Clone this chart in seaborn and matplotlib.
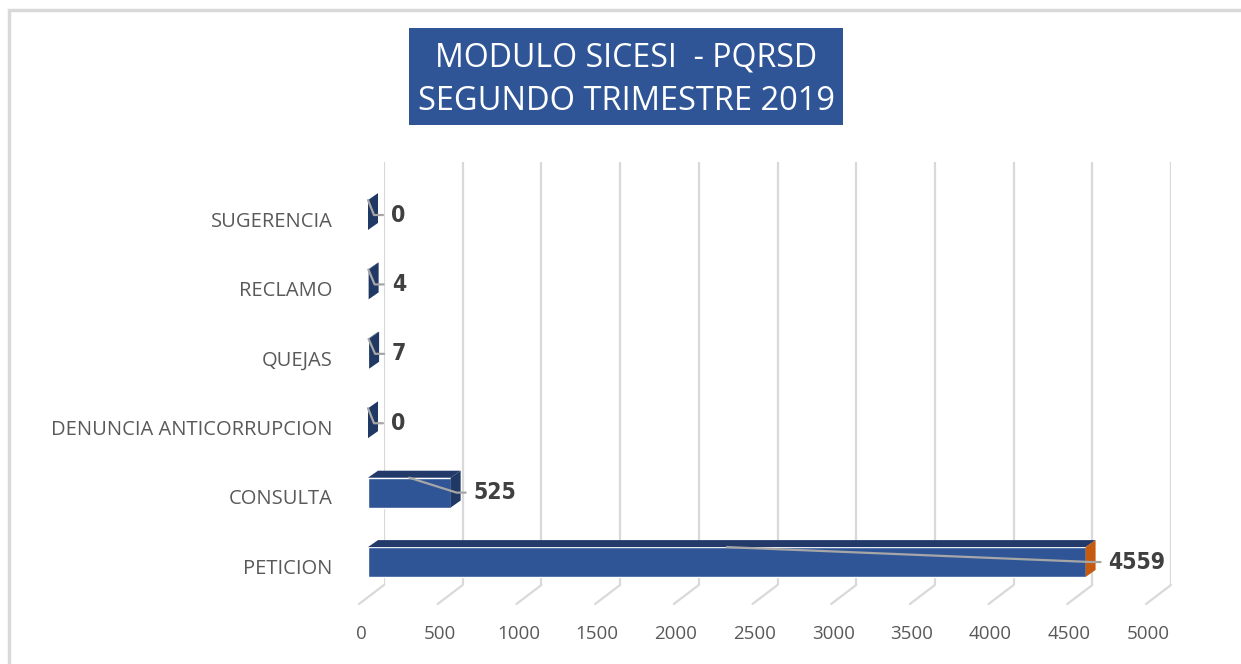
import numpy as np
import pandas as pd
import matplotlib
matplotlib.use("Agg")
import matplotlib.pyplot as plt
import matplotlib.transforms as mtransforms
from matplotlib.patches import Polygon, Rectangle
from matplotlib.lines import Line2D
import seaborn as sns

categories = ["SUGERENCIA", "RECLAMO", "QUEJAS", "DENUNCIA ANTICORRUPCION", "CONSULTA", "PETICION"]
values = [0, 4, 7, 0, 525, 4559]
x_ticks = [0, 500, 1000, 1500, 2000, 2500, 3000, 3500, 4000, 4500, 5000]
title_lines = ["MODULO SICESI  - PQRSD", "SEGUNDO TRIMESTRE 2019"]

sns.set_theme(style="white")
plt.rcParams["font.family"] = ["Open Sans", "DejaVu Sans"]

W, H = 1241, 664
fig = plt.figure(figsize=(W / 100, H / 100), dpi=100)
fig.patch.set_facecolor("white")

# plot area (back plane)
ax = fig.add_axes([384 / W, (H - 585) / H, 787 / W, (585 - 162) / H])
df = pd.DataFrame({"cat": categories, "val": values})
sns.barplot(data=df, y="cat", x="val", orient="h", color="#2F5597",
            saturation=1, width=0.43, ax=ax, zorder=3)
ax.set_xlim(0, 5000)
ax.set_ylim(5.331, -0.764)
ax.set_xticks(x_ticks)
ax.set_xticklabels([])
ax.set_xlabel("")
ax.set_ylabel("")
ax.xaxis.grid(True, color="#d9d9d9", lw=1.6, zorder=0)
ax.yaxis.grid(False)
for s in ax.spines.values():
    s.set_visible(False)
ax.tick_params(axis="both", length=0)
ax.tick_params(axis="y", pad=37, labelsize=14.5, labelcolor="#595959")
for lab in ax.get_yticklabels():
    lab.set_transform(lab.get_transform() + mtransforms.ScaledTranslation(0, -0.04, fig.dpi_scale_trans))
ax.set_facecolor("none")

px = lambda dx, dy: mtransforms.ScaledTranslation(dx / 100, dy / 100, fig.dpi_scale_trans)
front = ax.transData + px(-16, 0)

# x tick labels under the slanted floor lines
lab_tr = mtransforms.blended_transform_factory(ax.transData, ax.transAxes) + px(-23, -49)
for v in x_ticks:
    ax.text(v, 0, str(v), transform=lab_tr, ha="center", va="center",
            fontsize=13.5, color="#595959", clip_on=False)
    # slanted floor part of the gridline
    p0 = ax.transData.transform((v, 5.331))
    ln = Line2D([p0[0], p0[0] - 25], [p0[1], p0[1] - 19], color="#d9d9d9", lw=1.6,
                transform=mtransforms.IdentityTransform())
    fig.add_artist(ln)

half = 0.43 / 2
dx3, dy3 = 10, 7
for k, (p, v) in enumerate(zip(ax.patches, values)):
    p.set_transform(front)
    p.set_clip_on(False)
    x0, y_top = front.transform((0, k - half))
    x1, y_bot = front.transform((v, k + half))
    yc = (y_top + y_bot) / 2
    top = Polygon([(x0, y_top), (x1, y_top), (x1 + dx3, y_top + dy3), (x0 + dx3, y_top + dy3)],
                  closed=True, fc="#22396a", ec="none", transform=mtransforms.IdentityTransform(), zorder=4)
    side_c = "#C55A11" if v == max(values) else "#1f3864"
    side = Polygon([(x1, y_bot), (x1, y_top), (x1 + dx3, y_top + dy3), (x1 + dx3, y_bot + dy3)],
                   closed=True, fc=side_c, ec="none", transform=mtransforms.IdentityTransform(), zorder=4)
    fig.add_artist(top)
    fig.add_artist(side)
    xm = front.transform((v / 2, k))[0]
    lead = Line2D([xm, x1 + 6, x1 + 15], [y_top, yc, yc], color="#a6a6a6", lw=1.6,
                  transform=mtransforms.IdentityTransform(), zorder=5)
    fig.add_artist(lead)
    fig.text(x1 + 23, yc, f"{v}", transform=mtransforms.IdentityTransform(),
             ha="left", va="center", fontsize=16.5, fontweight="bold", color="#404040",
             family=["DejaVu Sans"], fontstretch="condensed")

# chart border (light gray)
fig.add_artist(Rectangle((9 / W, -0.05), 1.2, (H - 10) / H + 0.05, transform=fig.transFigure,
                         fc="none", ec="#d9d9d9", lw=2.5, clip_on=False))

# title box
fig.add_artist(Rectangle((409 / W, (H - 125) / H), (843 - 409) / W, (125 - 28) / H,
                         transform=fig.transFigure, fc="#2F5597", ec="none"))
fig.text(626 / W, 1 - 58 / H, title_lines[0], ha="center", va="center", color="white", fontsize=23)
fig.text(626 / W, 1 - 102 / H, title_lines[1], ha="center", va="center", color="white", fontsize=23.5)

fig.savefig("out.png", dpi=100)
